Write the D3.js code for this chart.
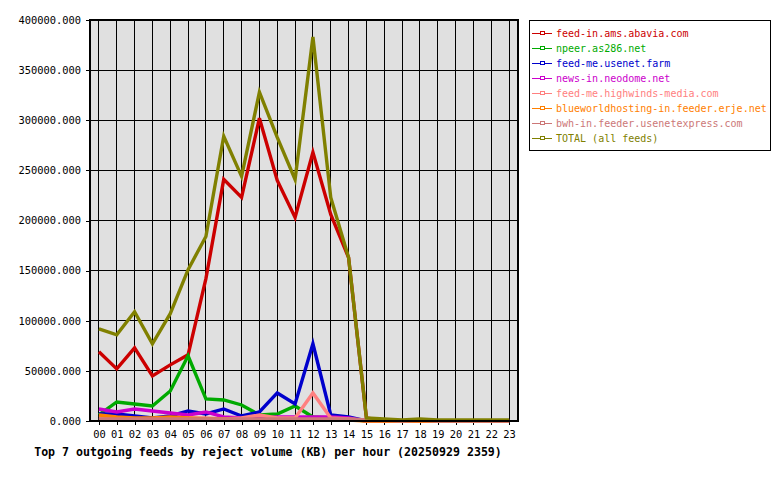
<!DOCTYPE html>
<html>
<head>
<meta charset="utf-8">
<script src="https://cdn.jsdelivr.net/npm/d3@7"></script>
<style>
  body { margin: 0; background: #fff; }
  text { font-family: "DejaVu Sans Mono", "Liberation Mono", monospace; }
</style>
</head>
<body>
<div id="chart"></div>
<script>
const hours = ["00","01","02","03","04","05","06","07","08","09","10","11","12","13","14","15","16","17","18","19","20","21","22","23"];
const yTicks = [0, 50000, 100000, 150000, 200000, 250000, 300000, 350000, 400000];

const feedNames = [
  "feed-in.ams.abavia.com",
  "npeer.as286.net",
  "feed-me.usenet.farm",
  "news-in.neodome.net",
  "feed-me.highwinds-media.com",
  "blueworldhosting-in.feeder.erje.net",
  "bwh-in.feeder.usenetexpress.com",
  "TOTAL (all feeds)"
];
const feedColors = ["#cc0000", "#00aa00", "#0000cc", "#cc00cc", "#ff8080", "#ff8000", "#cc7777", "#808000"];

const abavia     = [69000, 52000, 73000, 45000, 56000, 66000, 142000, 241000, 223000, 302000, 240000, 203000, 268000, 206000, 163000, 3000, 0, 0, 0, 0, 0, 0, 0, 0];
const as286      = [6000, 19000, 17000, 15000, 30000, 65000, 22000, 21000, 16000, 6000, 7000, 15000, 4000, 3000, 2000, 0, 0, 0, 0, 0, 0, 0, 0, 0];
const usenetFarm = [7000, 7000, 5000, 3000, 5000, 10000, 7000, 12000, 5000, 9000, 28000, 17000, 77000, 6000, 4000, 0, 0, 0, 0, 0, 0, 0, 0, 0];
const neodome    = [12000, 9000, 12000, 10000, 8000, 6000, 9000, 4000, 3000, 3000, 4000, 4000, 4000, 4000, 3000, 0, 0, 0, 0, 0, 0, 0, 0, 0];
const highwinds  = [3000, 2000, 2000, 2000, 3000, 3000, 3000, 2000, 3000, 6000, 3000, 3000, 28000, 3000, 2000, 0, 0, 0, 0, 0, 0, 0, 0, 0];
const erje       = [6000, 4000, 3000, 3000, 4000, 3000, 2000, 2000, 1000, 1000, 1000, 1000, 1000, 1000, 1000, 0, 0, 0, 0, 0, 0, 0, 0, 0];
const bwh        = [2000, 2000, 2000, 2000, 2000, 2000, 2000, 2000, 2000, 2000, 2000, 2000, 2000, 2000, 2000, 1000, 1000, 0, 1000, 0, 0, 0, 0, 0];
const total      = [92000, 86000, 109000, 77000, 107000, 151000, 184000, 284000, 244000, 328000, 283000, 241000, 383000, 223000, 163000, 3000, 2000, 1000, 2000, 1000, 1000, 1000, 1000, 1000];

const series = [abavia, as286, usenetFarm, neodome, highwinds, erje, bwh, total];

const width = 780, height = 480;
const plot = { left: 90, right: 518, top: 20, bottom: 421 };

const svg = d3.select("#chart").append("svg")
  .attr("width", width)
  .attr("height", height);

const x = d3.scalePoint().domain(hours).range([plot.left, plot.right]).padding(0.5);
const y = d3.scaleLinear().domain([0, 400000]).range([plot.bottom, plot.top]);

svg.append("rect")
  .attr("x", plot.left).attr("y", plot.top)
  .attr("width", plot.right - plot.left).attr("height", plot.bottom - plot.top)
  .attr("fill", "#e0e0e0");

// grid
const grid = svg.append("g").attr("shape-rendering", "crispEdges").attr("stroke", "#000");
grid.selectAll(".vg").data(hours).enter().append("line")
  .attr("x1", d => x(d)).attr("x2", d => x(d))
  .attr("y1", plot.top).attr("y2", plot.bottom);
grid.selectAll(".hg").data(yTicks).enter().append("line")
  .attr("x1", plot.left).attr("x2", plot.right)
  .attr("y1", d => y(d)).attr("y2", d => y(d));

// axes
const yAxis = d3.axisLeft(y).tickValues(yTicks).tickFormat(d => d3.format(".3f")(d)).tickSize(4).tickPadding(5);
const xAxis = d3.axisBottom(x).tickSize(4).tickPadding(6);

const gy = svg.append("g").attr("transform", `translate(${plot.left},0)`).call(yAxis);
const gx = svg.append("g").attr("transform", `translate(0,${plot.bottom})`).call(xAxis);
[gy, gx].forEach(g => {
  g.select(".domain").remove();
  g.selectAll("line").attr("stroke", "#000").attr("shape-rendering", "crispEdges");
  g.selectAll("text").attr("fill", "#000").style("font-size", "10.4px")
    .style("font-family", '"DejaVu Sans Mono", monospace');
});

// lines
const line = d3.line().x((d, i) => x(hours[i])).y(d => y(d));
svg.append("g").selectAll("path").data(series).enter().append("path")
  .attr("d", line)
  .attr("fill", "none")
  .attr("stroke", (d, i) => feedColors[i])
  .attr("stroke-width", 3.4)
  .attr("stroke-linejoin", "miter");

// frame
svg.append("rect")
  .attr("x", plot.left).attr("y", plot.top)
  .attr("width", plot.right - plot.left).attr("height", plot.bottom - plot.top)
  .attr("fill", "none").attr("stroke", "#000").attr("stroke-width", 2)
  .attr("shape-rendering", "crispEdges");

// title
svg.append("text")
  .attr("x", 268).attr("y", 456)
  .attr("text-anchor", "middle")
  .style("font-size", "11.6px")
  .style("font-weight", "bold")
  .text("Top 7 outgoing feeds by reject volume (KB) per hour (20250929 2359)");

// legend
const legend = svg.append("g");
legend.append("rect")
  .attr("x", 529).attr("y", 20).attr("width", 241).attr("height", 130)
  .attr("fill", "#fff").attr("stroke", "#000").attr("stroke-width", 1)
  .attr("shape-rendering", "crispEdges");
const items = legend.selectAll(".item").data(feedNames).enter().append("g")
  .attr("transform", (d, i) => `translate(0,${33 + i * 15})`);
items.append("line")
  .attr("x1", 532).attr("x2", 552).attr("y1", 0).attr("y2", 0)
  .attr("stroke", (d, i) => feedColors[i]).attr("stroke-width", 1)
  .attr("shape-rendering", "crispEdges");
items.append("rect")
  .attr("x", 540).attr("y", -2).attr("width", 4).attr("height", 3)
  .attr("fill", "#fff").attr("stroke", (d, i) => feedColors[i])
  .attr("shape-rendering", "crispEdges");
items.append("text")
  .attr("x", 556).attr("y", 4)
  .style("font-size", "10px")
  .attr("fill", (d, i) => feedColors[i])
  .text(d => d);
</script>
</body>
</html>
